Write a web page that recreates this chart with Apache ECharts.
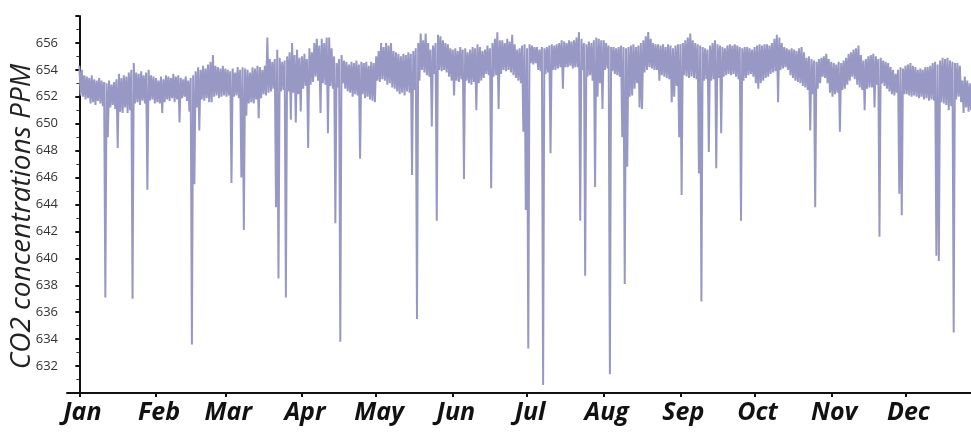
<!DOCTYPE html>
<html>
<head>
<meta charset="utf-8">
<script src="https://cdn.jsdelivr.net/npm/echarts@6/dist/echarts.min.js"></script>
<style>
  html, body { margin: 0; padding: 0; background: #fff; }
  #main { width: 971px; height: 433px; }
</style>
</head>
<body>
<div id="main"></div>
<script>
// month names and first day-of-year of each month (ticks)
var months = ['Jan', 'Feb', 'Mar', 'Apr', 'May', 'Jun', 'Jul', 'Aug', 'Sep', 'Oct', 'Nov', 'Dec'];
var monthStarts = [0, 31, 59, 90, 120, 151, 181, 212, 243, 273, 304, 334];

// CO2 (ppm): daily high and daily low, one pair of arrays per month
var janHi = [654.3, 654.0, 653.6, 653.5, 653.4, 653.6, 653.3, 653.2, 653.4, 653.2, 653.1, 653.0, 653.2, 652.9, 653.1, 653.3,
  653.7, 653.4, 653.6, 653.5, 653.8, 654.0, 654.5, 653.8, 653.7, 653.9, 653.6, 653.8, 654.0, 653.6, 653.5];
var janLo = [652.1, 652.0, 651.8, 651.9, 651.5, 651.6, 651.4, 651.7, 651.5, 651.3, 637.1, 649.0, 651.2, 651.4, 651.1, 648.2,
  650.9, 650.8, 651.2, 650.8, 651.0, 637.0, 651.5, 651.6, 651.4, 651.7, 651.5, 645.1, 651.7, 651.8, 651.5];
var febHi = [653.4, 653.2, 653.5, 653.3, 653.6, 653.5, 653.4, 653.7, 653.5, 653.6, 653.4, 653.3, 653.5, 653.2, 653.4, 653.6,
  653.9, 654.2, 654.0, 654.3, 654.1, 654.4, 654.6, 655.1, 654.3, 654.2, 654.1, 654.3];
var febLo = [651.6, 651.5, 650.8, 651.6, 651.8, 651.7, 651.9, 651.6, 651.8, 650.1, 651.9, 652.0, 651.7, 650.9, 633.6, 645.5,
  651.2, 649.5, 651.8, 651.7, 651.9, 651.6, 651.6, 652.0, 652.1, 651.9, 652.0, 652.1];
var marHi = [654.1, 654.0, 653.9, 654.1, 653.8, 654.2, 654.0, 654.2, 654.1, 654.0, 653.8, 654.2, 654.1, 654.3, 654.2, 654.0,
  654.3, 656.4, 654.8, 654.6, 654.8, 655.5, 654.9, 654.6, 654.7, 655.0, 655.3, 656.0, 655.1, 655.5, 654.9];
var marLo = [652.0, 652.1, 645.6, 652.0, 652.1, 651.9, 646.0, 642.1, 650.6, 651.5, 651.6, 651.5, 651.8, 650.4, 651.9, 652.2,
  652.1, 652.3, 652.4, 652.6, 643.8, 638.5, 652.4, 652.5, 637.1, 652.4, 650.3, 652.3, 650.1, 652.2, 650.9];
var aprHi = [655.0, 655.2, 654.8, 655.6, 655.3, 656.0, 656.3, 655.8, 656.3, 656.0, 656.4, 656.4, 655.6, 655.0, 654.5, 654.8,
  655.1, 654.7, 654.6, 654.4, 654.6, 654.5, 654.7, 654.4, 654.6, 654.5, 654.6, 654.3, 654.6, 654.5];
var aprLo = [652.6, 652.8, 648.2, 652.9, 653.1, 653.5, 653.2, 650.8, 653.0, 652.9, 649.3, 652.8, 652.6, 642.6, 652.7, 633.8,
  653.0, 652.6, 652.4, 652.3, 652.0, 652.2, 652.1, 647.4, 652.2, 651.9, 652.0, 651.8, 651.7, 651.6];
var mayHi = [655.0, 655.4, 656.0, 655.7, 656.0, 655.8, 656.0, 655.4, 655.3, 655.2, 655.0, 655.2, 655.1, 655.3, 655.2, 655.4,
  655.6, 656.0, 656.7, 656.2, 656.7, 656.0, 655.5, 655.8, 656.0, 656.6, 656.5, 656.2, 656.0, 655.9, 655.6];
var mayLo = [653.2, 653.1, 653.3, 653.2, 652.9, 653.0, 652.7, 652.6, 652.4, 652.2, 652.3, 652.1, 652.4, 652.3, 646.2, 652.5,
  635.5, 653.2, 654.0, 653.8, 653.6, 653.5, 649.8, 653.7, 642.8, 654.0, 653.9, 654.0, 653.8, 653.5, 653.2];
var junHi = [655.5, 655.6, 655.4, 655.7, 655.5, 655.6, 655.3, 655.5, 655.7, 655.6, 655.9, 655.7, 655.4, 655.5, 655.8, 655.6,
  656.0, 656.3, 656.8, 656.2, 656.2, 656.0, 656.3, 656.1, 656.6, 655.9, 655.5, 655.6, 655.8, 655.9];
var junLo = [652.1, 653.2, 653.1, 653.3, 645.9, 653.2, 653.0, 652.9, 653.1, 651.0, 653.0, 653.2, 653.4, 653.7, 653.6, 645.2,
  653.5, 653.6, 651.1, 653.7, 654.0, 653.9, 654.0, 653.8, 653.6, 653.4, 653.2, 653.0, 649.4, 643.6];
var julHi = [655.6, 655.9, 655.8, 655.7, 655.7, 655.5, 655.7, 655.6, 655.7, 655.8, 655.9, 655.8, 655.9, 656.0, 656.2, 656.1,
  656.0, 656.2, 656.1, 656.2, 656.4, 656.8, 656.3, 656.0, 655.9, 656.1, 656.0, 656.2, 656.4, 656.3, 656.2];
var julLo = [633.3, 654.5, 654.4, 654.5, 654.0, 653.9, 630.6, 653.7, 653.8, 647.8, 654.0, 654.0, 654.1, 654.2, 652.6, 654.2,
  654.2, 654.3, 654.1, 654.2, 654.2, 642.8, 654.0, 638.7, 653.5, 653.6, 653.2, 645.3, 652.0, 653.0, 651.1];
var augHi = [656.2, 656.0, 655.8, 655.7, 655.7, 655.6, 655.7, 655.8, 655.7, 655.6, 655.7, 655.8, 655.9, 655.7, 655.8, 656.0,
  656.2, 656.5, 656.8, 656.3, 656.0, 655.9, 655.9, 655.8, 655.9, 655.7, 655.9, 655.8, 655.6, 655.8, 655.9];
var augLo = [654.0, 654.1, 631.4, 653.9, 653.7, 653.6, 653.5, 649.0, 638.1, 646.8, 652.0, 652.1, 652.6, 653.0, 651.2, 651.1,
  653.8, 654.0, 654.2, 654.1, 654.0, 654.0, 653.2, 653.6, 653.5, 653.4, 653.3, 651.6, 652.0, 652.8, 649.0];
var sepHi = [655.9, 656.0, 656.2, 656.4, 656.7, 656.2, 656.0, 655.9, 655.8, 655.7, 655.6, 655.5, 655.8, 656.0, 656.2, 655.9,
  655.8, 655.7, 655.6, 655.8, 655.9, 655.8, 655.9, 655.8, 655.7, 655.6, 655.7, 655.7, 655.6, 655.5];
var sepLo = [644.7, 653.6, 653.5, 653.4, 653.5, 653.4, 653.3, 646.3, 636.8, 653.2, 653.3, 647.9, 653.2, 653.3, 646.7, 653.4,
  649.3, 653.5, 653.6, 653.7, 653.6, 653.7, 653.5, 653.3, 642.8, 653.2, 653.4, 653.6, 653.7, 653.5];
var octHi = [655.7, 655.8, 655.9, 655.8, 655.9, 655.9, 655.8, 656.0, 656.3, 656.6, 656.4, 656.0, 655.7, 655.6, 655.5, 655.6,
  655.5, 655.4, 655.6, 655.7, 655.3, 654.9, 655.0, 654.8, 654.7, 654.6, 654.8, 654.9, 655.0, 655.2, 654.8];
var octLo = [653.0, 652.6, 653.0, 653.2, 653.4, 653.5, 653.7, 653.8, 653.9, 651.6, 654.0, 654.1, 654.2, 654.0, 653.6, 653.4,
  653.2, 653.1, 653.0, 652.8, 652.7, 652.5, 649.5, 652.2, 643.8, 652.6, 653.0, 653.5, 653.4, 653.0, 652.3];
var novHi = [654.6, 654.5, 654.4, 654.6, 654.5, 654.7, 654.9, 655.2, 655.3, 655.5, 655.6, 655.8, 655.1, 654.7, 654.8, 655.0,
  655.1, 655.2, 655.0, 654.8, 654.9, 654.7, 654.6, 654.5, 654.2, 654.0, 653.7, 654.0, 654.2, 654.1];
var novLo = [652.0, 652.2, 652.3, 649.4, 652.5, 652.6, 652.9, 653.2, 653.5, 653.3, 652.9, 652.7, 652.5, 651.0, 652.6, 652.7,
  652.7, 651.2, 652.9, 641.6, 653.0, 652.8, 652.6, 652.4, 652.2, 652.1, 652.3, 644.8, 643.2, 652.2];
var decHi = [654.3, 654.4, 654.5, 654.3, 654.2, 654.0, 654.1, 654.0, 654.2, 654.2, 654.3, 654.5, 654.6, 654.4, 654.7, 654.9,
  654.8, 654.9, 654.7, 654.6, 654.5, 654.5, 654.3, 653.2, 653.5, 653.2, 653.0];
var decLo = [652.2, 652.1, 652.0, 652.1, 652.0, 651.9, 652.0, 651.8, 651.9, 651.7, 651.8, 651.7, 640.2, 639.8, 651.6, 651.5,
  651.4, 651.0, 651.3, 634.5, 651.8, 652.0, 651.6, 650.8, 651.2, 650.9, 651.0];

var highs = [janHi, febHi, marHi, aprHi, mayHi, junHi, julHi, augHi, sepHi, octHi, novHi, decHi];
var lows = [janLo, febLo, marLo, aprLo, mayLo, junLo, julLo, augLo, sepLo, octLo, novLo, decLo];

// high reading at the start of each day, low reading half a day later
var seriesData = [];
highs.forEach(function (hi, m) {
  hi.forEach(function (v, i) {
    var day = monthStarts[m] + i;
    seriesData.push([day, v]);
    seriesData.push([day + 0.5, lows[m][i]]);
  });
});

var myChart = echarts.init(document.getElementById('main'));
var option = {
  animation: false,
  backgroundColor: '#fff',
  grid: { left: 67, right: 0, top: 16, bottom: 40, outerBoundsMode: 'none', containLabel: false },
  // y axis title, drawn as rotated text
  graphic: [{
    type: 'text',
    left: 8,
    top: 'middle',
    rotation: Math.PI / 2,
    style: {
      text: 'CO2 concentrations PPM',
      font: 'italic 28px "Open Sans"',
      fill: '#222'
    }
  }],
  xAxis: {
    type: 'value',
    min: -5,
    max: 360.5,
    axisLine: { show: true, onZero: false, lineStyle: { color: '#111', width: 2 } },
    axisTick: { show: true, customValues: monthStarts, length: 4, lineStyle: { color: '#111', width: 2 } },
    axisLabel: {
      customValues: monthStarts,
      formatter: function (v) { return months[monthStarts.indexOf(v)]; },
      fontFamily: 'Open Sans',
      fontSize: 25,
      fontWeight: 'bold',
      fontStyle: 'italic',
      color: '#111',
      margin: 7,
      padding: [0, 0, 0, 6]
    },
    splitLine: { show: false }
  },
  yAxis: {
    type: 'value',
    min: 630,
    max: 658,
    interval: 2,
    axisLine: { show: true, onZero: true, lineStyle: { color: '#111', width: 2 } },
    axisTick: { show: true, length: 4, lineStyle: { color: '#111', width: 2 } },
    minorTick: { show: true, splitNumber: 2, length: 3, lineStyle: { color: '#333', width: 1 } },
    axisLabel: {
      formatter: function (v) { return (v > 630 && v < 658) ? v : ''; },
      fontFamily: 'Open Sans',
      fontSize: 13,
      color: '#333',
      margin: 9
    },
    splitLine: { show: false }
  },
  series: [{
    name: 'CO2',
    type: 'line',
    data: seriesData,
    showSymbol: false,
    symbol: 'none',
    sampling: false,
    lineStyle: { color: '#9898c4', width: 2 }
  }]
};
myChart.setOption(option);
</script>
</body>
</html>
